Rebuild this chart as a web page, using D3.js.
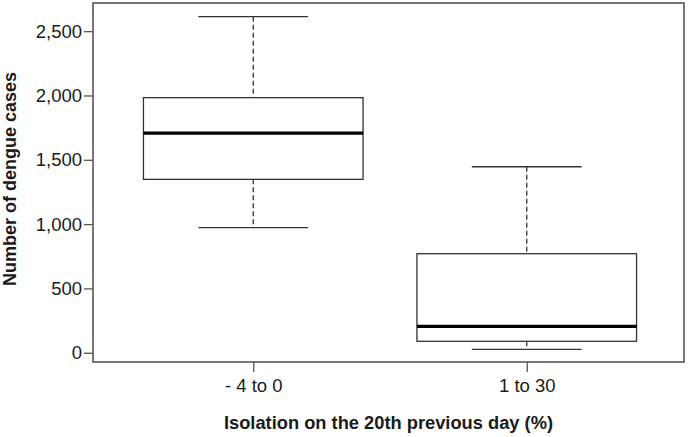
<!DOCTYPE html>
<html>
<head>
<meta charset="utf-8">
<script src="https://cdn.jsdelivr.net/npm/d3@7"></script>
<style>
  body { margin: 0; background: #fff; }
  text { font-family: "Liberation Sans", Arial, sans-serif; fill: #1a1a1a; }
</style>
</head>
<body>
<div id="vis"></div>
<script>
// box stats
const groups = ['- 4 to 0', '1 to 30'];
const whiskerLow = [972, 26];
const q1 = [1348, 89];
const median = [1708, 205];
const q3 = [1983, 770];
const whiskerHigh = [2613, 1446];
const yTicks = [0, 500, 1000, 1500, 2000, 2500];

const width = 688;
const height = 437;
const frame = { left: 93, right: 684, top: 3, bottom: 362 };

const svg = d3.select('#vis')
  .append('svg')
    .attr('width', width)
    .attr('height', height);

// x positions 1, 2 like R's boxplot
const x = d3.scaleLinear()
  .domain([0.414, 2.575])
  .range([frame.left, frame.right]);

const y = d3.scaleLinear()
  .domain([-72, 2719])
  .range([frame.bottom, frame.top]);

const boxW = x(1.803) - x(1);
const capW = boxW / 2;

const data = groups.map((g, i) => ({
  g, pos: i + 1,
  lo: whiskerLow[i], q1: q1[i], med: median[i], q3: q3[i], hi: whiskerHigh[i]
}));

const boxes = svg.append('g')
  .selectAll('g')
  .data(data)
  .join('g');

// whiskers
boxes.append('line')
  .attr('x1', d => x(d.pos)).attr('x2', d => x(d.pos))
  .attr('y1', d => y(d.hi)).attr('y2', d => y(d.q3))
  .attr('stroke', '#333').attr('stroke-width', 1.3)
  .attr('stroke-dasharray', '5,3');
boxes.append('line')
  .attr('x1', d => x(d.pos)).attr('x2', d => x(d.pos))
  .attr('y1', d => y(d.q1)).attr('y2', d => y(d.lo))
  .attr('stroke', '#333').attr('stroke-width', 1.3)
  .attr('stroke-dasharray', '5,3');

// caps
boxes.selectAll('line.cap')
  .data(d => [{ pos: d.pos, v: d.hi }, { pos: d.pos, v: d.lo }])
  .join('line')
    .attr('class', 'cap')
    .attr('x1', d => x(d.pos) - capW / 2)
    .attr('x2', d => x(d.pos) + capW / 2)
    .attr('y1', d => y(d.v)).attr('y2', d => y(d.v))
    .attr('stroke', '#333').attr('stroke-width', 1.3);

// box
boxes.append('rect')
  .attr('x', d => x(d.pos) - boxW / 2)
  .attr('width', boxW)
  .attr('y', d => y(d.q3))
  .attr('height', d => y(d.q1) - y(d.q3))
  .attr('fill', 'none')
  .attr('stroke', '#333').attr('stroke-width', 1.3);

// median
boxes.append('line')
  .attr('x1', d => x(d.pos) - boxW / 2)
  .attr('x2', d => x(d.pos) + boxW / 2)
  .attr('y1', d => y(d.med)).attr('y2', d => y(d.med))
  .attr('stroke', '#000').attr('stroke-width', 3.2);

// frame
svg.append('rect')
  .attr('x', frame.left).attr('y', frame.top)
  .attr('width', frame.right - frame.left)
  .attr('height', frame.bottom - frame.top)
  .attr('fill', 'none')
  .attr('stroke', '#555').attr('stroke-width', 1.6);

// y axis
const yAxis = svg.append('g')
  .attr('transform', `translate(${frame.left},0)`)
  .call(d3.axisLeft(y).tickValues(yTicks).tickSize(9).tickPadding(2)
    .tickFormat(d3.format(',')));
yAxis.select('.domain').remove();
yAxis.selectAll('line').attr('stroke', '#555').attr('stroke-width', 1.3);
yAxis.selectAll('text').style('font-size', '18.5px').attr('fill', '#1a1a1a');

// x axis
const xAxis = svg.append('g')
  .attr('transform', `translate(0,${frame.bottom})`)
  .call(d3.axisBottom(x).tickValues([1, 2]).tickSize(10).tickPadding(7)
    .tickFormat(d => groups[d - 1]));
xAxis.select('.domain').remove();
xAxis.selectAll('line').attr('stroke', '#555').attr('stroke-width', 1.3);
xAxis.selectAll('text').style('font-size', '18.5px').attr('fill', '#1a1a1a');

// titles
svg.append('text')
  .attr('x', (frame.left + frame.right) / 2)
  .attr('y', 429)
  .attr('text-anchor', 'middle')
  .style('font-size', '18.3px')
  .style('font-weight', 'bold')
  .text('Isolation on the 20th previous day (%)');

svg.append('text')
  .attr('transform', `translate(16,179) rotate(-90)`)
  .attr('text-anchor', 'middle')
  .style('font-size', '18px')
  .style('font-weight', 'bold')
  .text('Number of dengue cases');
</script>
</body>
</html>
